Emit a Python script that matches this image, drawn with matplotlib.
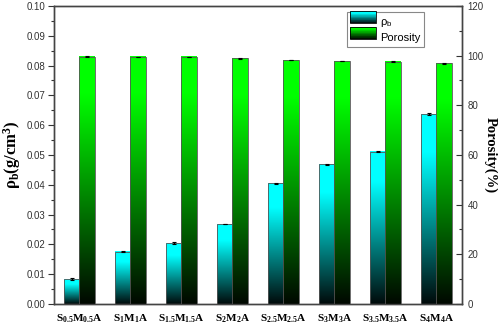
import numpy as np
import matplotlib
matplotlib.use("Agg")
import matplotlib.pyplot as plt
from matplotlib.colors import LinearSegmentedColormap
from matplotlib.patches import Rectangle
from matplotlib.ticker import MultipleLocator

samples = ['S$_\\mathregular{0.5}$M$_\\mathregular{0.5}$A', 'S$_\\mathregular{1}$M$_\\mathregular{1}$A',
           'S$_\\mathregular{1.5}$M$_\\mathregular{1.5}$A', 'S$_\\mathregular{2}$M$_\\mathregular{2}$A',
           'S$_\\mathregular{2.5}$M$_\\mathregular{2.5}$A', 'S$_\\mathregular{3}$M$_\\mathregular{3}$A',
           'S$_\\mathregular{3.5}$M$_\\mathregular{3.5}$A', 'S$_\\mathregular{4}$M$_\\mathregular{4}$A']
density = [0.0083, 0.0176, 0.0204, 0.0268, 0.0405, 0.0469, 0.0511, 0.0637]
density_err = [0.0003, 0.0003, 0.0003, 0.0001, 0.0001, 0.0001, 0.0002, 0.0003]
porosity = [99.6, 99.5, 99.5, 98.9, 98.2, 97.8, 97.6, 96.9]
porosity_err = [0.1, 0.1, 0.1, 0.1, 0.1, 0.1, 0.1, 0.1]

plt.rcParams['font.family'] = ['Liberation Sans', 'DejaVu Sans']
plt.rcParams['mathtext.default'] = 'regular'

cyan_map = LinearSegmentedColormap.from_list('cy', [(0, '#000a0a'), (0.8, '#00ffff'), (1, '#00ffff')])
green_map = LinearSegmentedColormap.from_list('gr', [(0, '#000800'), (0.85, '#00ff00'), (1, '#00ff00')])
grad = np.linspace(0, 1, 256).reshape(-1, 1)

fig = plt.figure(figsize=(4.98, 3.26), dpi=100)
ax = fig.add_subplot(111)
fig.subplots_adjust(left=0.1084, right=0.9277, top=0.9816, bottom=0.0675)
ax2 = ax.twinx()

x = np.arange(1, len(samples) + 1)
w = 0.3
edge = '#555555'

b1 = ax.bar(x - w / 2, density, w, facecolor='none', edgecolor=edge, linewidth=0.6, zorder=3)
ax.errorbar(x - w / 2, density, yerr=density_err, fmt='none', ecolor='black', elinewidth=0.8,
            capsize=1.5, capthick=0.8, zorder=4)
for p in b1:
    bx, by = p.get_x(), p.get_y()
    ax.imshow(grad, extent=(bx, bx + p.get_width(), by, by + p.get_height()), origin='lower',
              aspect='auto', cmap=cyan_map, zorder=2)

b2 = ax2.bar(x + w / 2, porosity, w, facecolor='none', edgecolor=edge, linewidth=0.6, zorder=3)
ax2.errorbar(x + w / 2, porosity, yerr=porosity_err, fmt='none', ecolor='black', elinewidth=0.8,
             capsize=1.5, capthick=0.8, zorder=4)
for p in b2:
    bx, by = p.get_x(), p.get_y()
    ax2.imshow(grad, extent=(bx, bx + p.get_width(), by, by + p.get_height()), origin='lower',
               aspect='auto', cmap=green_map, zorder=2)

ax.set_xlim(0.5, 8.5)
ax.set_ylim(0, 0.10)
ax2.set_ylim(0, 120)
ax2.set_xlim(0.5, 8.5)

ax.set_xticks(x)
ax.set_xticklabels(samples, family='Liberation Serif', fontweight='bold', fontsize=8)
ax.tick_params(axis='x', length=0, pad=6)
ax.yaxis.set_major_locator(MultipleLocator(0.01))
ax.yaxis.set_minor_locator(MultipleLocator(0.005))
ax.yaxis.set_major_formatter(plt.FormatStrFormatter('%.2f'))
ax.tick_params(axis='y', direction='out', length=4, width=0.8, labelsize=7, colors='#333333',
               labelcolor='#333333', pad=2)
ax.tick_params(axis='y', which='minor', direction='out', length=2, width=0.8, colors='#333333')

ax2.yaxis.set_major_locator(MultipleLocator(20))
ax2.yaxis.set_minor_locator(MultipleLocator(10))
ax2.tick_params(axis='y', direction='in', length=4, width=0.8, labelsize=7, colors='#333333',
                labelcolor='#333333', pad=4)
ax2.tick_params(axis='y', which='minor', direction='in', length=2, width=0.8, colors='#333333')

for a in (ax, ax2):
    for s in a.spines.values():
        s.set_color('#444444')
        s.set_linewidth(1.0)

ax.set_ylabel('ρ$_\\mathregular{b}$(g/cm$^\\mathregular{3}$)', family='Liberation Serif',
              fontweight='bold', fontsize=12, labelpad=3)
ax2.set_ylabel('Porosity(%)', family='Liberation Serif', fontweight='bold', fontsize=10.5,
               rotation=270, va='center', ha='center')
ax2.yaxis.set_label_coords(1.07, 0.5)


class GradHandler:
    def __init__(self, cmap):
        self.cmap = cmap

    def legend_artist(self, legend, orig_handle, fontsize, handlebox):
        x0, y0 = handlebox.xdescent, handlebox.ydescent
        wd, ht = handlebox.width, handlebox.height
        n = 20
        for i in range(n):
            r = Rectangle((x0, y0 + ht * i / n), wd, ht / n + 0.05, facecolor=self.cmap((i + 0.5) / n),
                          edgecolor='none', transform=handlebox.get_transform())
            handlebox.add_artist(r)
        frame = Rectangle((x0, y0), wd, ht, facecolor='none', edgecolor='black', linewidth=0.6,
                          transform=handlebox.get_transform())
        handlebox.add_artist(frame)
        return frame


h1 = Rectangle((0, 0), 1, 1)
h2 = Rectangle((0, 0), 1, 1)
leg = ax2.legend([h1, h2], ['ρ$_\\mathregular{b}$', 'Porosity'],
                 handler_map={h1: GradHandler(cyan_map), h2: GradHandler(green_map)},
                 loc='upper right', bbox_to_anchor=(0.907, 0.98), borderaxespad=0, fontsize=8,
                 fancybox=False, framealpha=1, edgecolor='#888888', handlelength=2.3,
                 handleheight=1.3, handletextpad=0.4, labelspacing=0.2, borderpad=0.3)
leg.get_frame().set_linewidth(0.8)

fig.savefig('out.png', dpi=100)
